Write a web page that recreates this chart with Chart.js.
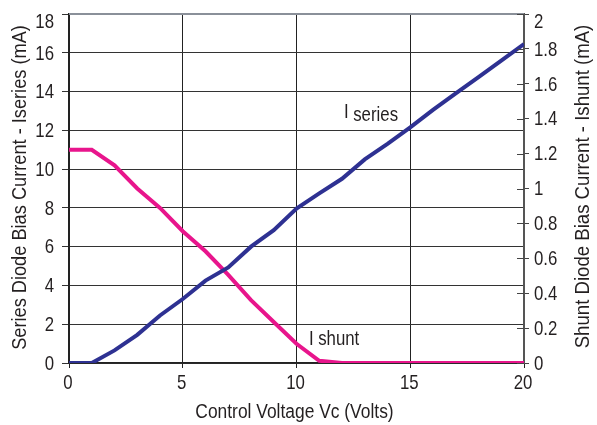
<!DOCTYPE html>
<html><head><meta charset="utf-8">
<script src="https://cdn.jsdelivr.net/npm/chart.js@4"></script>
<style>html,body{margin:0;padding:0;background:#fff}#wrap{width:597px;height:425px}</style>
</head><body><div id="wrap"><canvas id="c" width="597" height="425"></canvas></div>
<script>
const voltage = [0,1,2,3,4,5,6,7,8,9,10,11,12,13,14,15,16,17,18,19,20];
const iSeries = [0,0,0.65,1.45,2.45,3.3,4.25,4.93,6.0,6.85,7.97,8.75,9.5,10.5,11.3,12.15,13.05,13.9,14.75,15.6,16.45];
const iShunt = [1.222,1.222,1.133,1.0,0.889,0.755,0.64,0.505,0.36,0.235,0.11,0.013,0,0,0,0,0,0,0,0,0];
const xTicks = [0,5,10,15,20];
const leftTicks = [0,2,4,6,8,10,12,14,16,18];
const rightTicks = [0,0.2,0.4,0.6,0.8,1,1.2,1.4,1.6,1.8,2];
const seriesLabels = [
  {main:'I', sub:'series', x:12.09, y:12.64, drop:3.5},
  {main:'I', sub:'shunt', x:10.55, y:0.93, drop:0}
];
const titles = {x:'Control Voltage Vc (Volts)', left:'Series Diode Bias Current - Iseries (mA)', right:'Shunt Diode Bias Current - Ishunt (mA)'};

const FONT = '"Liberation Sans",Arial,sans-serif';
const BLUE = '#2e3192', PINK = '#e8158c', TXT = '#231f20';
const SQ = 0.84;

function txt(ctx, s, x, y, size, align, base, rot, sq){
  ctx.save();
  ctx.font = size + 'px ' + FONT;
  ctx.fillStyle = TXT;
  ctx.textAlign = align; ctx.textBaseline = base;
  ctx.translate(x, y);
  if (rot) ctx.rotate(rot);
  ctx.scale(sq || SQ, 1);
  ctx.fillText(s, 0, 0);
  const w = ctx.measureText(s).width * (sq || SQ);
  ctx.restore();
  return w;
}

const extras = {
  id:'extras',
  beforeDatasetsDraw(chart){
    const ctx = chart.ctx, ca = chart.chartArea;
    ctx.save(); ctx.strokeStyle = '#8a9099'; ctx.lineWidth = 2;
    ctx.beginPath(); ctx.moveTo(ca.left, ca.top); ctx.lineTo(ca.right, ca.top); ctx.stroke();
    ctx.restore();
  },
  afterDraw(chart){
    const ctx = chart.ctx, ca = chart.chartArea;
    const xs = chart.scales.x, yl = chart.scales.y, yr = chart.scales.y2;
    ctx.save();
    ctx.strokeStyle = '#444'; ctx.lineWidth = 1;
    rightTicks.forEach(v=>{
      const p = Math.round(yr.getPixelForValue(v))+0.5;
      ctx.beginPath(); ctx.moveTo(ca.right-7,p); ctx.lineTo(ca.right,p); ctx.stroke();
    });
    ctx.restore();
    leftTicks.forEach(v=>{
      const p = Math.max(yl.getPixelForValue(v), ca.top + 7.5);
      txt(ctx, String(v), ca.left - 15, p + 1, 21, 'right', 'middle', 0, 0.8);
    });
    rightTicks.forEach(v=>{
      const p = Math.max(yr.getPixelForValue(v), ca.top + 7);
      txt(ctx, String(v), ca.right + 10, p + 1, 21, 'left', 'middle', 0, 0.8);
    });
    xTicks.forEach(v=>{
      txt(ctx, String(v), xs.getPixelForValue(v) - 1, ca.bottom + 20, 21, 'center', 'middle', 0, 0.8);
    });
    seriesLabels.forEach(l=>{
      const px = xs.getPixelForValue(l.x), py = yl.getPixelForValue(l.y);
      const w = txt(ctx, l.main, px, py, 20, 'left', 'alphabetic');
      txt(ctx, l.sub, px + w + 4.5, py + l.drop, 20, 'left', 'alphabetic');
    });
    const cy = (ca.top + ca.bottom) / 2;
    txt(ctx, titles.x, (ca.left + ca.right) / 2 - 2, 412, 20, 'center', 'middle', 0, 0.87);
    txt(ctx, titles.left, 20, cy - 1, 20, 'center', 'middle', -Math.PI/2, 0.91);
    txt(ctx, titles.right, 583, cy - 2, 20, 'center', 'middle', -Math.PI/2, 0.93);
  }
};

new Chart(document.getElementById('c'), {
  type:'line',
  data:{
    datasets:[
      {label:'I series', data: voltage.map((v,i)=>({x:v,y:iSeries[i]})), yAxisID:'y', borderColor:BLUE, borderWidth:4, pointRadius:0, tension:0, fill:false},
      {label:'I shunt', data: voltage.map((v,i)=>({x:v,y:iShunt[i]})), yAxisID:'y2', borderColor:PINK, borderWidth:4, pointRadius:0, tension:0, fill:false}
    ]
  },
  options:{
    responsive:false, animation:false,
    layout:{padding:{top:14,left:0,right:0,bottom:0}},
    plugins:{legend:{display:false}, tooltip:{enabled:false}},
    scales:{
      x:{type:'linear', min:0, max:20,
        afterBuildTicks(s){ s.ticks = xTicks.map(v=>({value:v})); },
        afterFit(s){ s.height = 62; },
        grid:{color:'#222', lineWidth:1, tickLength:5, drawTicks:true},
        border:{color:'#222', width:1.5},
        ticks:{display:false}
      },
      y:{position:'left', min:0, max:18,
        afterBuildTicks(s){ s.ticks = leftTicks.map(v=>({value:v})); },
        afterFit(s){ s.width = 69; },
        grid:{color:'#333', lineWidth:1, tickLength:7},
        border:{color:'#222', width:1.5},
        ticks:{display:false}
      },
      y2:{position:'right', min:0, max:2,
        afterBuildTicks(s){ s.ticks = rightTicks.map(v=>({value:v})); },
        afterFit(s){ s.width = 73; },
        grid:{drawOnChartArea:false, color:'#444', tickLength:5},
        border:{color:'#555', width:2},
        ticks:{display:false}
      }
    }
  },
  plugins:[extras]
});
</script></body></html>
